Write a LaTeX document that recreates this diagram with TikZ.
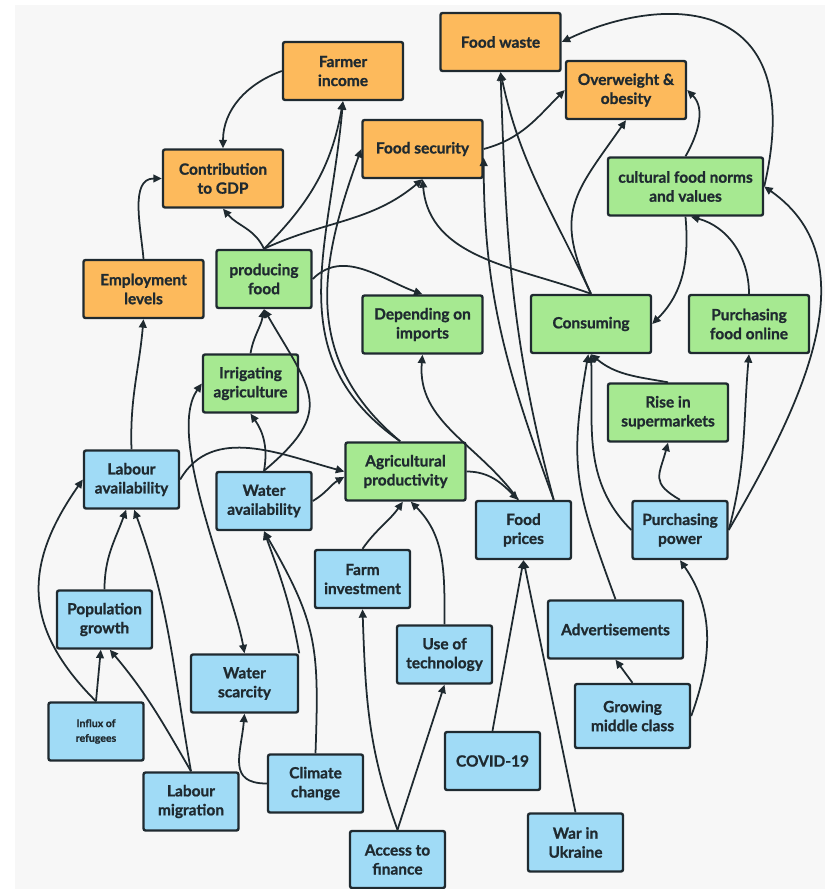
\documentclass[tikz,border=0pt]{standalone}
\usepackage{fontspec}
\setmainfont{Lato}[BoldFeatures={FakeBold=1}]
\usetikzlibrary{arrows.meta}
\definecolor{ink}{HTML}{1F2A30}
\definecolor{paper}{HTML}{F7F7F7}
\definecolor{orangefill}{HTML}{FDBA5C}
\definecolor{greenfill}{HTML}{A6E991}
\definecolor{bluefill}{HTML}{A0DBF6}

\begin{document}
\begin{tikzpicture}[x=0.025cm,y=-0.025cm]
\tikzstyle{box}=[draw=ink,line width=1.7pt,rounded corners=1.5pt,align=center,text=ink,font=\bfseries\fontsize{11}{13.5}\selectfont,minimum width=2.375cm,minimum height=1.45cm,inner sep=1pt]
\tikzstyle{outcome}=[box,fill=orangefill]
\tikzstyle{activity}=[box,fill=greenfill]
\tikzstyle{driver}=[box,fill=bluefill]
\tikzstyle{wide}=[minimum width=3cm]
\tikzstyle{link}=[draw=ink,line width=1.25pt,>={Triangle[length=6pt,width=5.5pt]},->]
\tikzstyle{twoway}=[link,<->]

\useasboundingbox (0,0) rectangle (825,889);
\fill[white] (0,0) rectangle (825,889);
\fill[paper] (15,5) rectangle (825,889);

\node[outcome,wide] (income) at (343,71) {Farmer\\income};
\node[outcome,wide] (gdp) at (223,178.5) {Contribution\\to GDP};
\node[outcome,wide] (employ) at (143.5,289) {Employment\\levels};
\node[outcome,wide] (security) at (422.5,149) {Food security};
\node[outcome,wide] (waste) at (500.5,42) {Food waste};
\node[outcome,wide] (obesity) at (626,90) {Overweight \&\\obesity};

\node[activity] (producing) at (264,279) {producing\\food};
\node[activity,minimum width=3.875cm] (norms) at (685.5,186.5) {cultural food norms\\and values};
\node[activity,wide] (imports) at (422.5,324.5) {Depending on\\imports};
\node[activity,wide] (consuming) at (591,324) {Consuming};
\node[activity,wide] (online) at (749,324) {Purchasing\\food online};
\node[activity,wide] (supermarkets) at (668,412.5) {Rise in\\supermarkets};
\node[activity] (irrigating) at (250.5,383.5) {Irrigating\\agriculture};
\node[activity,wide] (agri) at (405.5,471.5) {Agricultural\\productivity};

\node[driver] (labour) at (131.5,479.5) {Labour\\availability};
\node[driver] (water) at (264,501) {Water\\availability};
\node[driver] (prices) at (523.5,530) {Food\\prices};
\node[driver] (power) at (680,530) {Purchasing\\power};
\node[driver] (investment) at (362.5,579) {Farm\\investment};
\node[driver] (population) at (104.5,619.5) {Population\\growth};
\node[driver] (technology) at (444.5,654.5) {Use of\\technology};
\node[driver,minimum width=3.375cm] (adverts) at (615.5,629.5) {Advertisements};
\node[driver,minimum width=2.675cm] (scarcity) at (244.5,683.5) {Water\\scarcity};
\node[driver,font=\bfseries\fontsize{7.5}{10.5}\selectfont] (refugees) at (96,731.5) {Influx of\\refugees};
\node[driver,minimum width=2.875cm,minimum height=1.6cm] (middle) at (632.5,716) {Growing\\middle class};
\node[driver] (climate) at (315.5,783.5) {Climate\\change};
\node[driver] (migration) at (191,801.5) {Labour\\migration};
\node[driver] (covid) at (492.5,761) {COVID-19};
\node[driver] (war) at (575.5,842.5) {War in\\Ukraine};
\node[driver,minimum height=1.425cm] (finance) at (397.5,859.5) {Access to\\finance};

\path[link] (income.west) to[out=200,in=90] (gdp.north);
\path[link] (employ.north) to[out=95,in=180] (gdp.west);
\path[link] (producing.north) to[out=115,in=-50] (gdp.south);
\path[link] (producing.north) to[out=45,in=-100] (income.south);
\path[link] (producing.north) to[out=25,in=-140] (security.south);
\path[link] (producing.east) to[out=45,in=160] (imports.north);
\path[link] (labour.north) to[out=92,in=-95] (employ.south);
\path[link] (irrigating.north) to[out=80,in=-100] (producing.south);
\path[link] (water.north) to[out=40,in=-60,looseness=1.5] (producing.south);
\path[link] (water.north) to[out=80,in=-55] (irrigating.south);
\path[link] (labour.east) to[out=60,in=165] (agri.west);
\path[link] (water.east) to[out=30,in=-150] (agri.185);
\path[link] (agri.100) to[out=145,in=-95,looseness=1.1] (income.south);
\path[link] (agri.100) to[out=140,in=-110,looseness=1.1] (security.west);
\path[link] (security.east) to[out=15,in=-135] (obesity.west);
\path[link] (consuming.north) to[out=160,in=-85] (security.south);
\path[link] (consuming.north) to[out=115,in=-125,looseness=1.3] (obesity.south);
\path[link] (consuming.north) to[out=115,in=-78] (waste.south);
\path[link] (prices.45) to[out=110,in=-90] (security.-8);
\path[link] (prices.45) to[out=105,in=-88] (waste.south);
\path[link] (norms.north) to[out=60,in=-45] (obesity.east);
\path[link] (norms.east) .. controls (810,-10) and (660,-5) .. (waste.east);
\path[link] (norms.south) to[out=-85,in=45] (consuming.east);
\path[link] (online.north) to[out=90,in=-15] (norms.-80);
\path[link] (power.east) to[out=60,in=-35] (norms.east);
\path[link] (power.east) to[out=75,in=-95] (online.south);
\path[link] (power.north) to[out=150,in=-105,looseness=1.5] (supermarkets.south);
\path[link] (supermarkets.north) to[out=170,in=-40] (consuming.south);
\path[link] (power.west) to[out=135,in=-88] (consuming.south);
\path[link] (adverts.north) to[out=110,in=-100,looseness=1.2] (consuming.-95);
\path[link] (middle.north) -- (adverts.south);
\path[link] (middle.east) to[out=70,in=-55] (power.south);
\path[link] (prices.100) to[out=125,in=-95] (imports.south);
\path[link] (agri.east) to[out=0,in=135] (prices.100);
\path[link] (covid.north) -- (prices.south);
\path[link] (war.north) -- (prices.south);
\path[link] (investment.north) to[out=55,in=-125] (agri.-95);
\path[link] (technology.north) to[out=90,in=-45] (agri.-80);
\path[link] (finance.north) to[out=110,in=-88] (investment.south);
\path[link] (finance.north) -- (technology.south);
\path[link] (climate.west) to[out=180,in=-95,looseness=1.4] (scarcity.south);
\path[link] (climate.north) to[out=88,in=-60,looseness=1.2] (water.south);
\path[link] (scarcity.north east) to[out=100,in=-70] (water.south);
\path[twoway] (irrigating.west) to[out=235,in=100,looseness=0.6] (scarcity.north);
\path[link] (population.north) to[out=90,in=-110] (labour.-100);
\path[link] (refugees.north) to[out=135,in=-125,looseness=1.2] (labour.west);
\path[link] (refugees.north) -- (population.-97);
\path[link] (migration.north) to[out=120,in=-50] (population.-80);
\path[link] (migration.north) to[out=100,in=-70] (labour.-85);
\end{tikzpicture}
\end{document}
